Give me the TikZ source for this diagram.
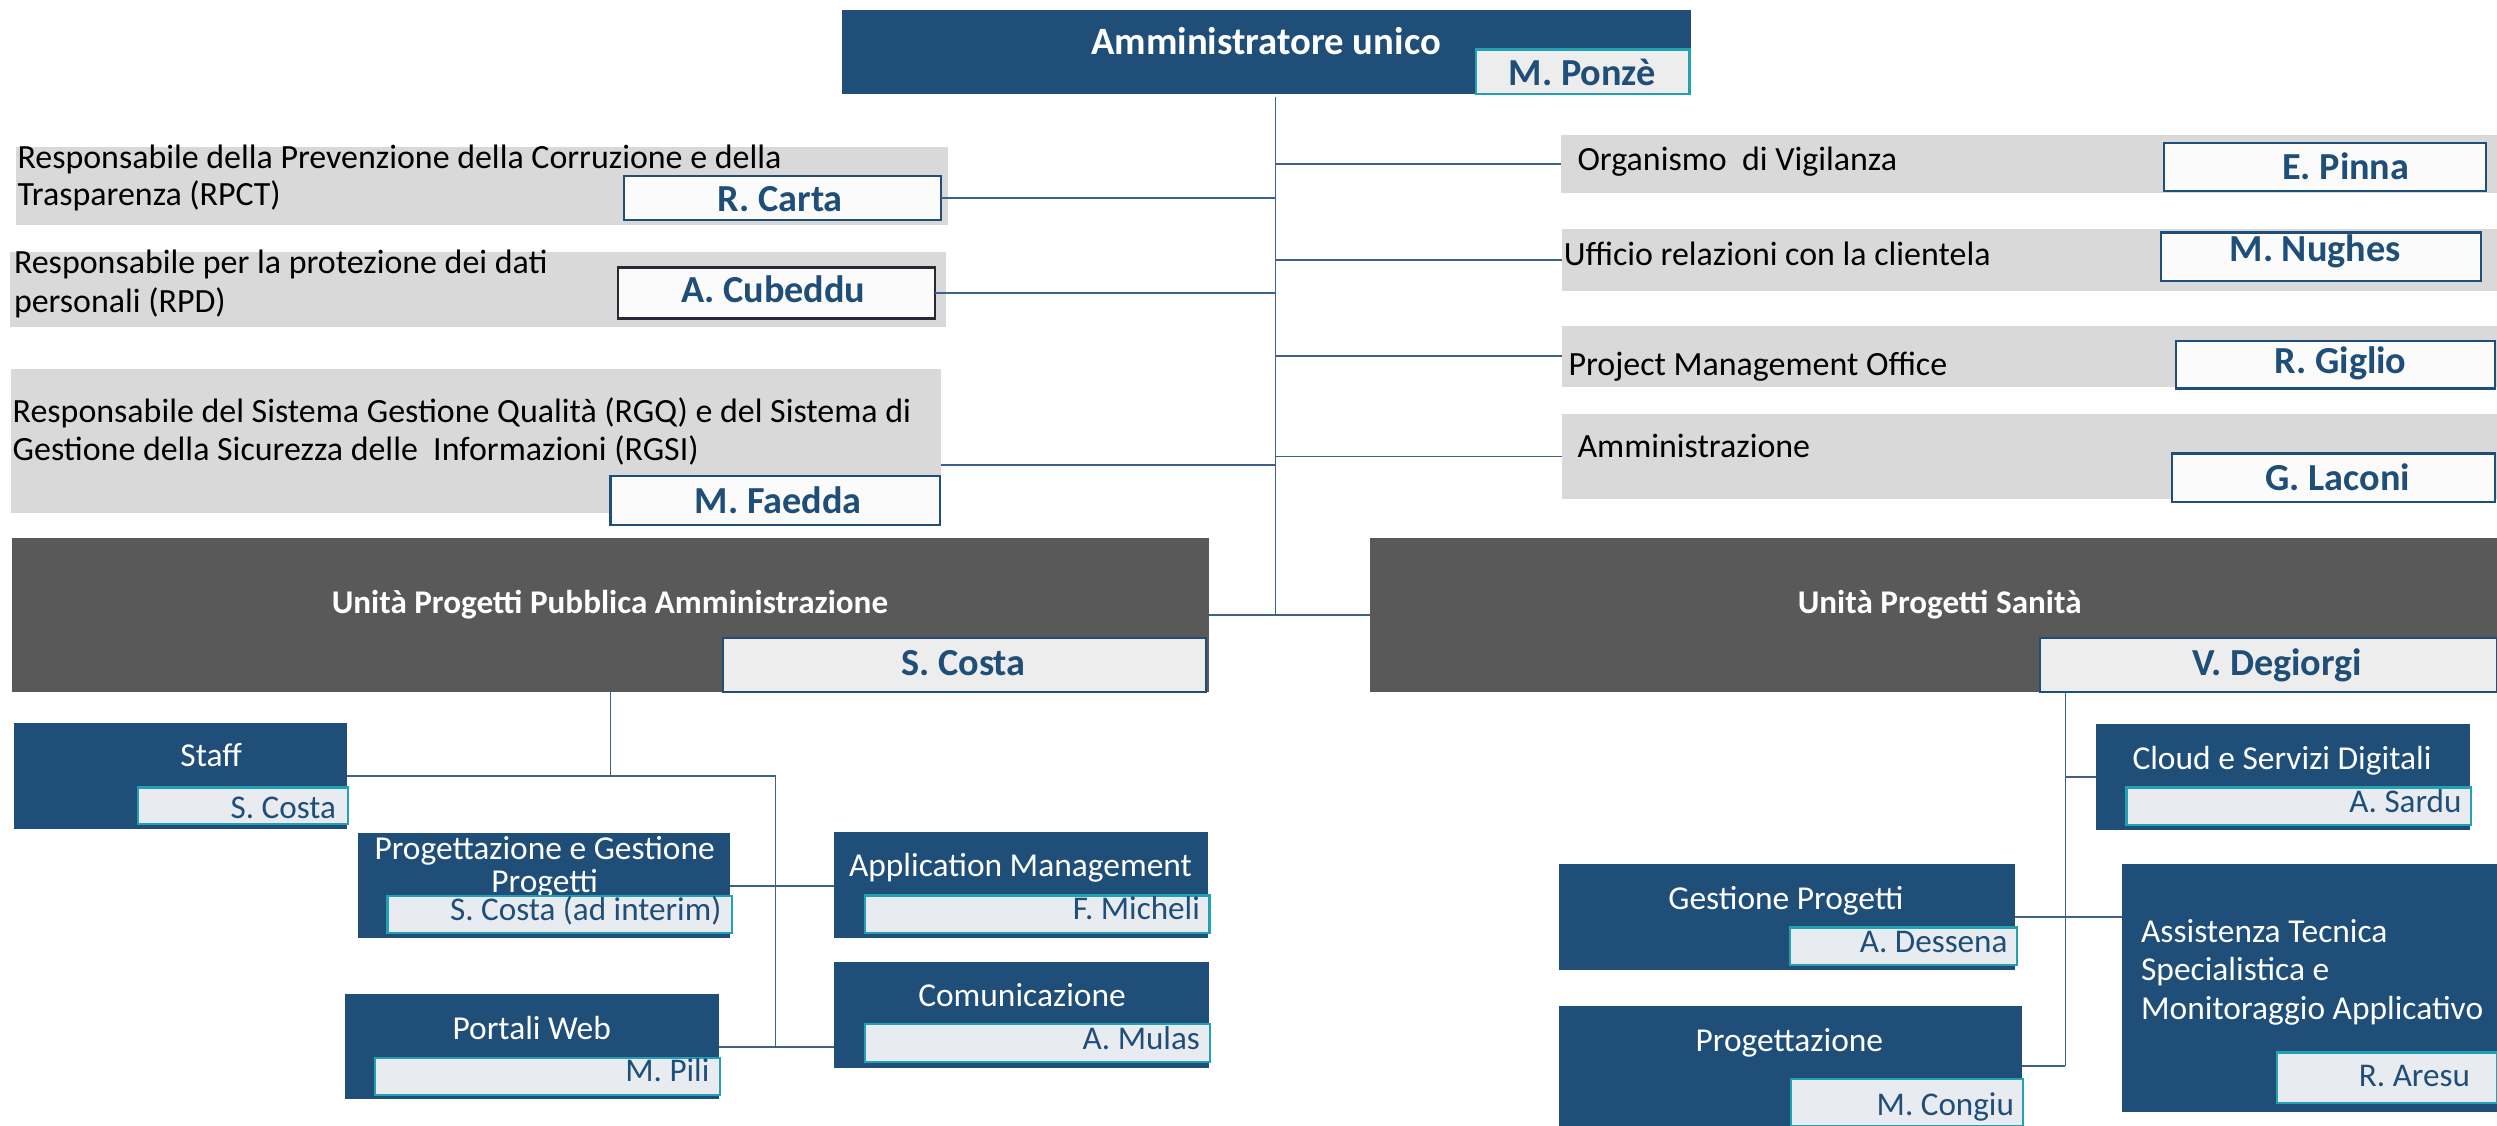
\documentclass[tikz,border=0pt]{standalone}
\usepackage{fontspec}
\setmainfont{Carlito}
\definecolor{dblue}{HTML}{1F4E79}
\definecolor{grayf}{HTML}{D9D9D9}
\definecolor{dgray}{HTML}{595959}
\definecolor{tealb}{HTML}{21A1B2}
\definecolor{lblue}{HTML}{E8EBF0}
\definecolor{lgray}{HTML}{EDEDED}
\definecolor{lineblue}{HTML}{3F6089}
\definecolor{darkb}{HTML}{252A35}
\begin{document}
\begin{tikzpicture}[x=1pt,y=-1pt,
  rbox/.style={anchor=north west, inner sep=0, outer sep=0},
  gbox/.style={rbox, fill=grayf},
  bbox/.style={rbox, fill=dblue},
  ubox/.style={rbox, fill=dgray},
  nbox/.style={rbox, fill=white!97!gray, draw=dblue, line width=1.4pt},
  tbox/.style={rbox, fill=lblue, draw=tealb, line width=1.5pt},
  txt/.style={inner sep=0, outer sep=0},
  bodytxt/.style={txt, font=\fontsize{21.3}{24}\selectfont, text=black},
  nm/.style={txt, font=\bfseries\fontsize{24}{28}\selectfont, text=dblue},
  wt/.style={txt, font=\fontsize{21}{24}\selectfont, text=white},
  sn/.style={txt, font=\fontsize{20.8}{24}\selectfont, text=dblue},
  conn/.style={draw=lineblue, line width=1.1pt}
]
\useasboundingbox (0,0) rectangle (1568,707);

% top
\node[bbox, minimum width=533pt, minimum height=53pt] (au) at (529,6) {};
\node[txt, anchor=base, text=white, font=\bfseries\fontsize{24.3}{28}\selectfont] (aut) at (795,34.5) {Amministratore unico};
\node[tbox, fill=lgray, minimum width=134pt, minimum height=28pt] (pon) at (927,31) {};
\node[nm, anchor=base] (pont) at (993.5,53.4) {M. Ponzè};

% left gray boxes
\node[gbox, minimum width=585pt, minimum height=49pt] (rpct) at (10,92) {};
\node[bodytxt, anchor=base west] (rpct1) at (11,105.6) {Responsabile della Prevenzione della Corruzione e della};
\node[bodytxt, anchor=base west] (rpct2) at (11,128.8) {Trasparenza (RPCT)};
\node[nbox, minimum width=199pt, minimum height=27.5pt] (carta) at (392,110.5) {};
\node[nm, anchor=base] (cartat) at (490,132.5) {R. Carta};

\node[gbox, minimum width=588pt, minimum height=47.5pt] (rpd) at (6,158) {};
\node[bodytxt, anchor=base west] (rpd1) at (8.8,172) {Responsabile per la protezione dei dati};
\node[bodytxt, anchor=base west] (rpd2) at (8.8,196.3) {personali (RPD)};
\node[nbox, draw=darkb, minimum width=199pt, minimum height=32pt] (cub) at (388,168) {};
\node[nm, anchor=base] (cubt) at (485.6,189.8) {A. Cubeddu};

\node[gbox, minimum width=584pt, minimum height=90pt] (rgq) at (7,232) {};
\node[bodytxt, anchor=base west] (rgq1) at (8,265.4) {Responsabile del Sistema Gestione Qualità (RGQ) e del Sistema di};
\node[bodytxt, anchor=base west] (rgq2) at (8,288.9) {Gestione della Sicurezza delle\ \ Informazioni (RGSI)};
\node[nbox, minimum width=207pt, minimum height=30.7pt] (fae) at (383.4,299) {};
\node[nm, anchor=base] (faet) at (488.7,322.3) {M. Faedda};

% right gray boxes
\node[gbox, minimum width=588pt, minimum height=36pt] (odv) at (980,85) {};
\node[bodytxt, anchor=base west] (odvt) at (990.6,106.8) {Organismo\ \ di Vigilanza};
\node[nbox, minimum width=202pt, minimum height=30.4pt] (pin) at (1359,89.6) {};
\node[nm, anchor=base] (pint) at (1473,112.6) {E. Pinna};

\node[gbox, minimum width=587.3pt, minimum height=38.7pt] (urc) at (980.7,143.8) {};
\node[bodytxt, anchor=base west] (urct) at (982,166.8) {Ufficio relazioni con la clientela};
\node[nbox, minimum width=200.7pt, minimum height=30.5pt] (nug) at (1357,146) {};
\node[nm, anchor=base] (nugt) at (1453.8,164.3) {M. Nughes};

\node[gbox, minimum width=587.3pt, minimum height=38.3pt] (pmo) at (980.7,204.5) {};
\node[bodytxt, anchor=base west] (pmot) at (985,235.5) {Project Management Office};
\node[nbox, minimum width=200pt, minimum height=30pt] (gig) at (1366.6,214) {};
\node[nm, anchor=base] (gigt) at (1469.8,234.4) {R. Giglio};

\node[gbox, minimum width=587.3pt, minimum height=53.3pt] (amm) at (980.7,260) {};
\node[bodytxt, anchor=base west] (ammt) at (990.6,287.4) {Amministrazione};
\node[nbox, minimum width=202.8pt, minimum height=30.3pt] (lac) at (1364,284.7) {};
\node[nm, anchor=base] (lact) at (1468,307.7) {G. Laconi};

% units
\node[ubox, minimum width=751.2pt, minimum height=96.7pt] (upa) at (7.8,338) {};
\node[txt, anchor=base, text=white, font=\bfseries\fontsize{20.8}{24}\selectfont] (upat) at (383,385) {Unità Progetti Pubblica Amministrazione};
\node[nbox, fill=lgray, minimum width=303.4pt, minimum height=33.9pt] (cos) at (454,400.8) {};
\node[nm, anchor=base] (cost) at (605,424.3) {S. Costa};

\node[ubox, minimum width=707.6pt, minimum height=96.7pt] (ups) at (860.4,338) {};
\node[txt, anchor=base, text=white, font=\bfseries\fontsize{20.8}{24}\selectfont] (upst) at (1218,385) {Unità Progetti Sanità};
\node[nbox, fill=lgray, minimum width=287pt, minimum height=33.9pt] (deg) at (1281,400.8) {};
\node[nm, anchor=base] (degt) at (1430,424.3) {V. Degiorgi};

% PA tree
\node[bbox, minimum width=208.8pt, minimum height=66.6pt] (staff) at (9,454.2) {};
\node[wt, anchor=base] (stafft) at (132.6,481.4) {Staff};
\node[tbox, minimum width=132.1pt, minimum height=23pt] (staffn) at (86.6,494.4) {};
\node[sn, anchor=base east] (staffnt) at (211,513.8) {S. Costa};

\node[bbox, minimum width=233.7pt, minimum height=65.9pt] (pgp) at (224.8,523.3) {};
\node[wt, anchor=base] (pgpt1) at (342,540) {Progettazione e Gestione};
\node[wt, anchor=base] (pgpt2) at (342,560.6) {Progetti};
\node[tbox, minimum width=216.3pt, minimum height=23.4pt] (pgpn) at (243.3,562.6) {};
\node[sn, anchor=base east] (pgpnt) at (453,578.1) {S. Costa (ad interim)};

\node[bbox, minimum width=234.8pt, minimum height=66.2pt] (app) at (523.6,522.6) {};
\node[wt, anchor=base] (appt) at (640.8,550.5) {Application Management};
\node[tbox, minimum width=216.4pt, minimum height=23.3pt] (appn) at (543,562.4) {};
\node[sn, anchor=base east] (appnt) at (753.5,577.7) {F. Micheli};

\node[bbox, minimum width=235.4pt, minimum height=66.5pt] (com) at (524,603.9) {};
\node[wt, anchor=base] (comt) at (641.8,632.1) {Comunicazione};
\node[tbox, minimum width=216.8pt, minimum height=23.8pt] (comn) at (543,643.2) {};
\node[sn, anchor=base east] (comnt) at (753.5,659.3) {A. Mulas};

\node[bbox, minimum width=234.7pt, minimum height=65.9pt] (pw) at (216.8,624.4) {};
\node[wt, anchor=base] (pwt) at (333.9,652.6) {Portali Web};
\node[tbox, minimum width=216.7pt, minimum height=23.4pt] (pwn) at (235.3,664.2) {};
\node[sn, anchor=base east] (pwnt) at (445.5,679.2) {M. Pili};

% Sanita tree
\node[bbox, minimum width=235pt, minimum height=66.4pt] (cloud) at (1316,454.8) {};
\node[wt, anchor=base] (cloudt) at (1433,483.5) {Cloud e Servizi Digitali};
\node[tbox, minimum width=216.3pt, minimum height=23.4pt] (cloudn) at (1335.3,494.6) {};
\node[sn, anchor=base east] (cloudnt) at (1545.7,510.3) {A. Sardu};

\node[bbox, minimum width=286.4pt, minimum height=66.3pt] (gest) at (979,542.7) {};
\node[wt, anchor=base] (gestt) at (1121.5,571) {Gestione Progetti};
\node[tbox, minimum width=142.6pt, minimum height=23.5pt] (gestn) at (1124,582.5) {};
\node[sn, anchor=base east] (gestnt) at (1260.6,598.2) {A. Dessena};

\node[bbox, minimum width=235.5pt, minimum height=155.3pt] (ass) at (1332.5,542.7) {};
\node[wt, anchor=base west] (ass1) at (1344.5,592) {Assistenza Tecnica};
\node[wt, anchor=base west] (ass2) at (1344.5,616) {Specialistica e};
\node[wt, anchor=base west] (ass3) at (1344.5,640) {Monitoraggio Applicativo};
\node[tbox, minimum width=138pt, minimum height=31.8pt] (assn) at (1430,661) {};
\node[sn, anchor=base east] (assnt) at (1551,682.3) {R. Aresu};

\node[bbox, minimum width=290.4pt, minimum height=75.3pt] (prog) at (979,631.7) {};
\node[wt, anchor=base] (progt) at (1123.6,660.4) {Progettazione};
\node[tbox, minimum width=145.7pt, minimum height=29.4pt] (progn) at (1124.7,677.6) {};
\node[sn, anchor=base east] (prognt) at (1264.7,700.2) {M. Congiu};

% connectors
\coordinate (jt) at (801,386.3);
\coordinate (pab) at (487,487.5);
\coordinate (pae) at (487,657.3);
\coordinate (sab) at (1297,669.3);

\draw[conn] (au.south -| jt) ++(0,2) -- (jt);
\draw[conn] (carta.east) -- (carta.east -| jt);
\draw[conn] (cub.east) -- (cub.east -| jt);
\draw[conn] ([yshift=-15pt]rgq.east) -- ([yshift=-15pt]rgq.east -| jt);
\draw[conn] (odv.west) -- (odv.west -| jt);
\draw[conn] (urc.west) -- (urc.west -| jt);
\draw[conn] (pmo.west) -- (pmo.west -| jt);
\draw[conn] (amm.west) -- (amm.west -| jt);
\draw[conn] (upa.east) -- (ups.west);

\draw[conn] (upa.south) -- (upa.south |- pab);
\draw[conn] (staff.east) -- (pab) -- (pae);
\draw[conn] (pgp.east) -- (pgp.east -| app.west);
\draw[conn] (pw.east) -- (pw.east -| com.west);

\draw[conn] (deg.south -| sab) -- (sab);
\draw[conn] (cloud.west) -- (cloud.west -| sab);
\draw[conn] (gest.east) -- (gest.east -| ass.west);
\draw[conn] (prog.east) -- (prog.east -| sab);
\end{tikzpicture}
\end{document}
